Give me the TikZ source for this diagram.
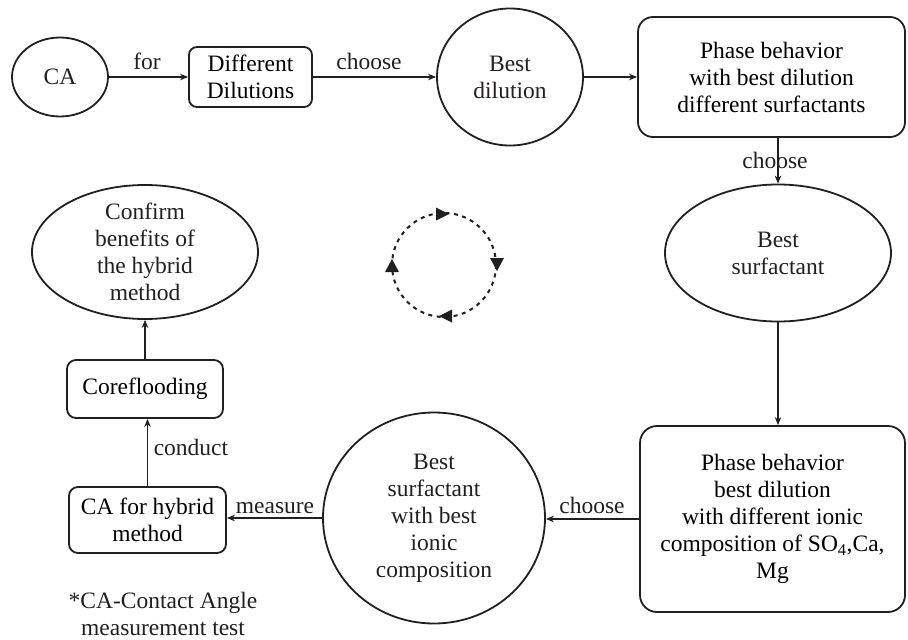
\documentclass[tikz,border=0pt]{standalone}
\usepackage{fontspec}
\setmainfont{Liberation Serif}
\usetikzlibrary{shapes.geometric,arrows.meta}
\definecolor{ink}{HTML}{231F20}
\begin{document}
\begin{tikzpicture}[x=1pt,y=-1pt,
  shp/.style={draw=ink, line width=1.8pt},
  ell/.style={shp, ellipse, inner sep=0pt},
  rbox/.style={shp, rectangle, inner sep=0pt, align=center},
  txt/.style={align=center, inner sep=0pt, text=ink},
  conn/.style={draw=ink, line width=1.2pt, -{Stealth[length=8pt,width=6.5pt]}},
  lab/.style={inner sep=0pt, anchor=base, text=ink},
  font=\fontsize{23.5}{27}\selectfont]
\useasboundingbox (0,0) rectangle (908,640);

% nodes
\node[ell, minimum width=96pt, minimum height=79pt] (CA) at (60,77) {};
\node[txt] (CAt) at (CA) {CA};

\node[rbox, rounded corners=8pt, minimum width=123pt, minimum height=60pt] (DD) at (250.5,77) {Different\\Dilutions};

\node[ell, minimum width=146pt, minimum height=137pt] (BD) at (510,77) {};
\node[txt] (BDt) at (BD) {Best\\dilution};

\node[rbox, rounded corners=15pt, minimum width=267pt, minimum height=120pt] (P1) at (771.5,77) {Phase behavior\\with best dilution\\different surfactants};

\node[ell, minimum width=226pt, minimum height=137pt] (BS) at (778,253) {};
\node[txt] (BSt) at (BS) {Best\\surfactant};

\node[rbox, rounded corners=17pt, minimum width=265pt, minimum height=186pt] (P2) at (772.5,519) {Phase behavior\\best dilution\\with different ionic\\composition of SO\textsubscript{4},Ca,\\Mg};

\node[ell, minimum width=222pt, minimum height=211pt] (BSI) at (434,518) {};
\node[txt] (BSIt) at (BSI) {Best\\surfactant\\with best\\ionic\\composition};

\node[rbox, rounded corners=9pt, minimum width=157pt, minimum height=66pt] (CAH) at (147.5,520) {CA for hybrid\\method};

\node[rbox, rounded corners=9pt, minimum width=156pt, minimum height=58pt] (CF) at (145,389) {Coreflooding};

\node[ell, minimum width=226pt, minimum height=134pt] (CON) at (145,252) {};
\node[txt] (CONt) at (CON) {Confirm\\benefits of\\the hybrid\\method};

\node[txt] (note) at (163,614) {*CA-Contact Angle\\measurement test};

% connectors
\draw[conn] (CA) -- (DD);
\draw[conn] (DD) -- (BD);
\draw[conn] (BD) -- (P1);
\draw[conn] (BS.north |- P1.south) -- (BS.north);
\draw[conn] (BS.south) -- (BS.south |- P2.north);
\draw[conn] (P2.west) -- (P2.west -| BSI.east);
\draw[conn] (BSI.west) -- (BSI.west -| CAH.east);
\draw[conn] (CAH.north) -- (CAH.north |- CF.south);
\draw[conn] (CF.north) -- (CF.north |- CON.south);

% connector labels
\node[lab] (l1) at (147,69) {for};
\node[lab] (l2) at (369,69) {choose};
\node[lab] (l3) at (775,168) {choose};
\node[lab] (l4) at (592,513) {choose};
\node[lab] (l5) at (275,513) {measure};
\node[lab] (l6) at (191,455) {conduct};

% dashed cycle symbol
\coordinate (cyc) at (444,265);
\draw[ink, line width=2pt, dash pattern=on 4pt off 4.5pt] (cyc) circle (52);
\fill[ink] (436,207.5) -- (449,214) -- (436,220.5) -- cycle;
\fill[ink] (490,258) -- (504,258) -- (497,271) -- cycle;
\fill[ink] (452,309.5) -- (439,316) -- (452,322.5) -- cycle;
\fill[ink] (385,272) -- (399,272) -- (392,259) -- cycle;
\end{tikzpicture}
\end{document}
